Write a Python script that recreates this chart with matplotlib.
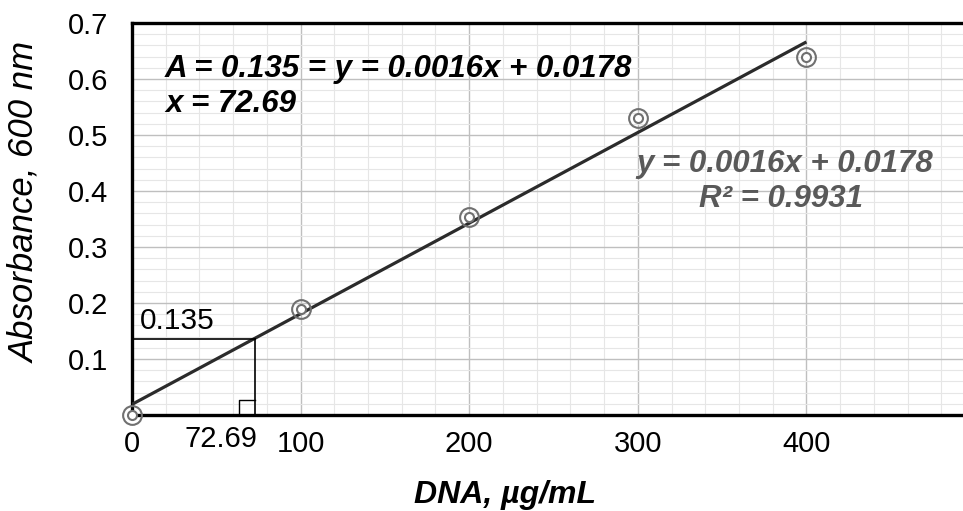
import numpy as np
import matplotlib
matplotlib.use("Agg")
import matplotlib.pyplot as plt
from matplotlib.ticker import MultipleLocator

# ---- data ----
dna = [0, 100, 200, 300, 400]
absorbance = [0.0, 0.19, 0.354, 0.53, 0.639]
x_ticks = [0, 100, 200, 300, 400]
y_ticks = [0.1, 0.2, 0.3, 0.4, 0.5, 0.6, 0.7]
slope, intercept = 0.0016, 0.0178
r2 = 0.9931
a_sample = 0.135
x_sample = 72.69

plt.rcParams['font.family'] = ['Liberation Sans', 'DejaVu Sans']

fig = plt.figure(figsize=(9.63, 5.11), dpi=100)
ax = fig.add_axes([132/963, 96/511, 843/963, 392/511])
ax.set_xlim(0, 500)
ax.set_ylim(0, 0.7)

ax.xaxis.set_major_locator(MultipleLocator(100))
ax.xaxis.set_minor_locator(MultipleLocator(20))
ax.yaxis.set_major_locator(MultipleLocator(0.1))
ax.yaxis.set_minor_locator(MultipleLocator(0.02))
ax.grid(which='major', color='#bfbfbf', lw=1.0)
ax.grid(which='minor', color='#e6e6e6', lw=0.8)
ax.set_axisbelow(True)

ax.set_xticks(x_ticks)
ax.set_xticklabels([str(v) for v in x_ticks])
ax.set_yticks(y_ticks)
ax.set_yticklabels([f"{v:.1f}" for v in y_ticks])
ax.tick_params(which='both', length=0)
ax.tick_params(axis='x', labelsize=21, pad=11)
ax.tick_params(axis='y', labelsize=21, pad=17)

for s in ['left', 'bottom', 'top']:
    ax.spines[s].set_linewidth(2.4)
    ax.spines[s].set_color('black')
ax.spines['right'].set_visible(False)

# trendline from least squares fit of points
p = np.polyfit(dna, absorbance, 1)
xx = np.array([min(dna), max(dna)])
ax.plot(xx, np.polyval(p, xx), color='#2b2b2b', lw=2.3, zorder=3, solid_capstyle='butt')

# double-circle markers
ax.plot(dna, absorbance, ls='none', marker='o', ms=13.5, mfc='none', mec='#707070', mew=1.5, zorder=4, clip_on=False)
ax.plot(dna, absorbance, ls='none', marker='o', ms=6.5, mfc='white', mec='#707070', mew=1.5, zorder=4, clip_on=False)

# sample reading lines
ax.plot([0, x_sample], [a_sample, a_sample], color='black', lw=1.2, zorder=3)
ax.plot([x_sample, x_sample], [0, a_sample], color='black', lw=1.2, zorder=3)
sq_w, sq_h = 9.0, 0.026
ax.plot([x_sample - sq_w, x_sample - sq_w, x_sample], [0, sq_h, sq_h], color='black', lw=1.0, zorder=3)

ax.text(4.7, 0.154, f"{a_sample}", fontsize=21.5, ha='left', va='baseline')
ax.text(53, -0.057, f"{x_sample}", fontsize=21, ha='center', va='baseline', clip_on=False)

ax.text(19.6, 0.6036, f"A = {a_sample} = y = {slope}x + {intercept}", fontsize=22.5,
        style='italic', weight='bold', ha='left', va='baseline')
ax.text(19.6, 0.541, f"x = {x_sample}", fontsize=22.5, style='italic', weight='bold',
        ha='left', va='baseline')

ax.text(387, 0.434, f"y = {slope}x + {intercept}", fontsize=22.5, style='italic',
        weight='bold', color='#595959', ha='center', va='baseline')
ax.text(385, 0.371, f"R² = {r2}", fontsize=22.5, style='italic', weight='bold',
        color='#595959', ha='center', va='baseline')

ax.set_xlabel("DNA, µg/mL", fontsize=23, style='italic', weight='bold')
ax.xaxis.set_label_coords((505-132)/843, -(503-415)/392)
ax.xaxis.label.set_va('baseline')
ax.set_ylabel("Absorbance, 600 nm", fontsize=25, style='italic')
ax.yaxis.set_label_coords((25-132)/843, (415-202)/392)
ax.yaxis.label.set_va('center')

fig.savefig("out.png", dpi=100)
